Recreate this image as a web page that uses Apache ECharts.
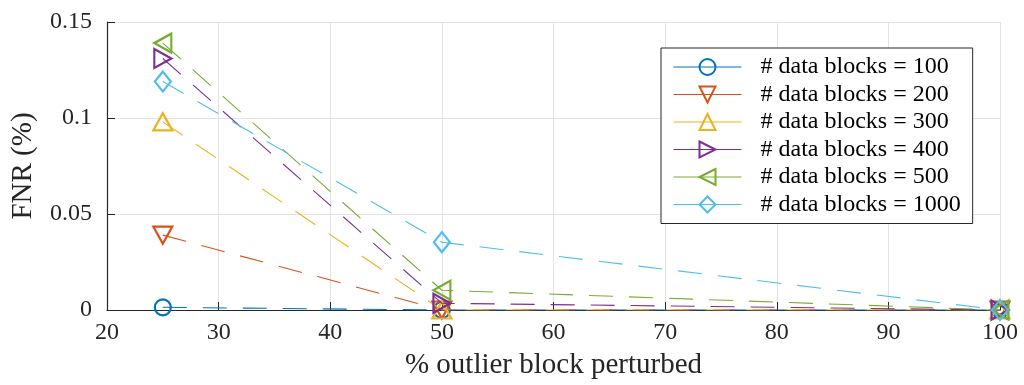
<!DOCTYPE html>
<html><head><meta charset="utf-8">
<script src="https://cdn.jsdelivr.net/npm/echarts@6/dist/echarts.min.js"></script>
<style>html,body{margin:0;padding:0;background:#fff}#c{width:1024px;height:385px}</style>
</head><body><div id="c"></div>
<script>
const xValues = [25, 50, 100];
const seriesNames = ['# data blocks = 100','# data blocks = 200','# data blocks = 300','# data blocks = 400','# data blocks = 500','# data blocks = 1000'];
const fnr100  = [0.0014, 0, 0];
const fnr200  = [0.039, 0, 0];
const fnr300  = [0.098, 0, 0];
const fnr400  = [0.131, 0.0035, 0];
const fnr500  = [0.139, 0.0103, 0];
const fnr1000 = [0.119, 0.0353, 0];
const xTicks = [20,30,40,50,60,70,80,90,100];
const yTicks = [0, 0.05, 0.1, 0.15];

const colors = ['#0072BD','#D95319','#EDB120','#7E2F8E','#77AC30','#4DBEEE'];
const symbols = [
  'circle',
  'path://M0,0 L10,0 L5,10 Z',
  'path://M5,0 L10,10 L0,10 Z',
  'path://M0,0 L10,5 L0,10 Z',
  'path://M10,0 L0,5 L10,10 Z',
  'path://M5,0 L10,6 L5,12 L0,6 Z'
];
const sizes = [16, [19, 17], [19, 17], [17, 19], [17, 19], [16, 20]];
const allData = [fnr100, fnr200, fnr300, fnr400, fnr500, fnr1000];
const font = 'Liberation Serif';

const series = allData.map((vals, i) => ({
  name: seriesNames[i],
  type: 'line',
  data: vals.map((v, j) => [xValues[j], v]),
  symbol: symbols[i],
  symbolSize: sizes[i],
  showAllSymbol: true,
  lineStyle: { color: colors[i], width: 1.1, type: [24, 16] },
  itemStyle: { color: 'rgba(255,255,255,0)', borderColor: colors[i], borderWidth: 2.2 },
  z: 2 + i,
  animation: false
}));

const chart = echarts.init(document.getElementById('c'));
chart.setOption({
  animation: false,
  grid: { left: 107, right: 24, top: 22, bottom: 75, show: false },
  xAxis: {
    type: 'value', min: 20, max: 100, interval: 10,
    name: '% outlier block perturbed', nameLocation: 'middle', nameGap: 41,
    nameTextStyle: { fontFamily: font, fontSize: 29, color: '#262626' },
    axisLine: { lineStyle: { color: '#262626', width: 1.2 } },
    axisTick: { inside: true, length: 8, lineStyle: { color: '#262626' } },
    axisLabel: { fontFamily: font, fontSize: 24, color: '#262626', margin: 11 },
    splitLine: { show: true, lineStyle: { color: '#e3e3e3', width: 1 } }
  },
  yAxis: {
    type: 'value', min: 0, max: 0.15, interval: 0.05,
    name: 'FNR (%)', nameLocation: 'middle', nameGap: 69,
    nameTextStyle: { fontFamily: font, fontSize: 29, color: '#262626' },
    axisLine: { show: true, lineStyle: { color: '#262626', width: 1.2 } },
    axisTick: { show: true, inside: true, length: 8, lineStyle: { color: '#262626' } },
    axisLabel: { fontFamily: font, fontSize: 24, color: '#262626', margin: 15,
      formatter: v => String(+v.toFixed(2)) },
    splitLine: { show: true, lineStyle: { color: '#e3e3e3', width: 1 } }
  },
  legend: {
    orient: 'vertical', left: 661, top: 48,
    padding: [7, 12, 7, 12],
    itemWidth: 68, itemHeight: 20, itemGap: 3.5,
    borderColor: '#262626', borderWidth: 1, backgroundColor: '#fff',
    textStyle: { fontFamily: font, fontSize: 24, color: '#000', padding: [0, 0, 0, 14] },
    lineStyle: { type: 'solid', width: 1 },
    data: seriesNames
  },
  series: series
});
</script></body></html>
